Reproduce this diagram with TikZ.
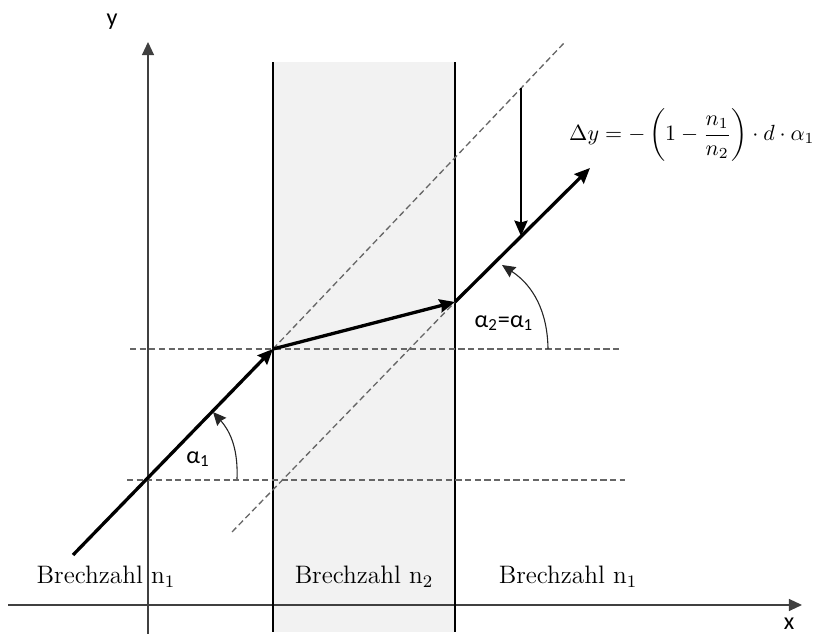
\documentclass[tikz,border=0pt]{standalone}
\usepackage{amsmath}
\usepackage{fontspec}
\newfontfamily\calibri{Carlito}
\usepackage{tikz}
\usetikzlibrary{arrows.meta,calc}

\begin{document}
\begin{tikzpicture}[x=0.016cm,y=0.016cm,
    axis/.style={black!75,line width=0.6pt},
    wall/.style={line width=1pt},
    ray/.style={line width=1.5pt,-{Stealth[length=7pt,width=6pt,inset=0.8pt]}},
    guide/.style={black!60,line width=0.6pt,dash pattern=on 2.8pt off 1.6pt},
    anglearc/.style={black!85,line width=0.5pt,-{Stealth[length=6pt,width=5.5pt,inset=0.6pt]}},
    sanslabel/.style={font=\calibri\fontsize{11}{13}\selectfont},
    serlabel/.style={font=\fontsize{11.5}{13}\selectfont}]
  \useasboundingbox (0,0) rectangle (816,634);
  % slab with n2
  \fill[gray!10] (273,2) rectangle (455,572);
  % axes
  \draw[axis,-{Triangle[length=6pt,width=5.5pt]}] (8,29)--(802,29);
  \draw[axis,-{Triangle[length=6pt,width=5.5pt]}] (148,0)--(148,592);
  \node[sanslabel] (xl) at (789,10) {x};
  \node[sanslabel] (yl) at (112,612) {y};
  \draw[wall] (273,2)--(273,572);
  \draw[wall] (455,2)--(455,572);
  % points of the ray
  \coordinate (S) at (73,79);
  \coordinate (P1) at (273,285);
  \coordinate (P2) at (455,332);
  \coordinate (E) at (590,466);
  \coordinate (D1) at (565,592);
  \coordinate (D2) at (232,102);
  % guides
  \coordinate (H1a) at (130,285);
  \coordinate (H1b) at (622,285);
  \coordinate (H2a) at (127,154);
  \coordinate (H2b) at (625,154);
  \draw[guide] (H1a)--(H1b);
  \draw[guide] (H2a)--(H2b);
  \draw[guide] (P1)--(D1);
  \draw[guide] (D2)--(P2);
  % the ray
  \draw[ray] (S)--(P1);
  \draw[ray] (P1)--(P2);
  \draw[ray] (P2)--(E);
  % offset
  \coordinate (V1) at (521,546);
  \coordinate (V2) at (521,398);
  \draw[line width=0.9pt,-{Stealth[length=7pt,width=6pt,inset=0.8pt]}] (V1)--(V2);
  % angles
  \coordinate (A1s) at (237,155);
  \coordinate (A1e) at (213,222);
  \coordinate (A2s) at (548,285);
  \coordinate (A2e) at (502,369);
  \draw[anglearc] (A1s) to[bend right=22] (A1e);
  \draw[anglearc] (A2s) to[bend right=28] (A2e);
  \node[sanslabel] (a1) at (198,175) {α\textsubscript{1}};
  \node[sanslabel] (a2) at (504,311) {α\textsubscript{2}=α\textsubscript{1}};
  \node[font=\fontsize{10}{12}\selectfont,anchor=east,inner sep=0pt] (dy) at (815,499)
    {$\displaystyle \Delta y=-\left(1-\frac{n_1}{n_2}\right)\cdot d\cdot\alpha_1$};
  % indices
  \node[serlabel] (b1) at (106,57) {Brechzahl $\mathrm{n}_1$};
  \node[serlabel] (b2) at (364,57) {Brechzahl $\mathrm{n}_2$};
  \node[serlabel] (b3) at (568,57) {Brechzahl $\mathrm{n}_1$};
\end{tikzpicture}
\end{document}
